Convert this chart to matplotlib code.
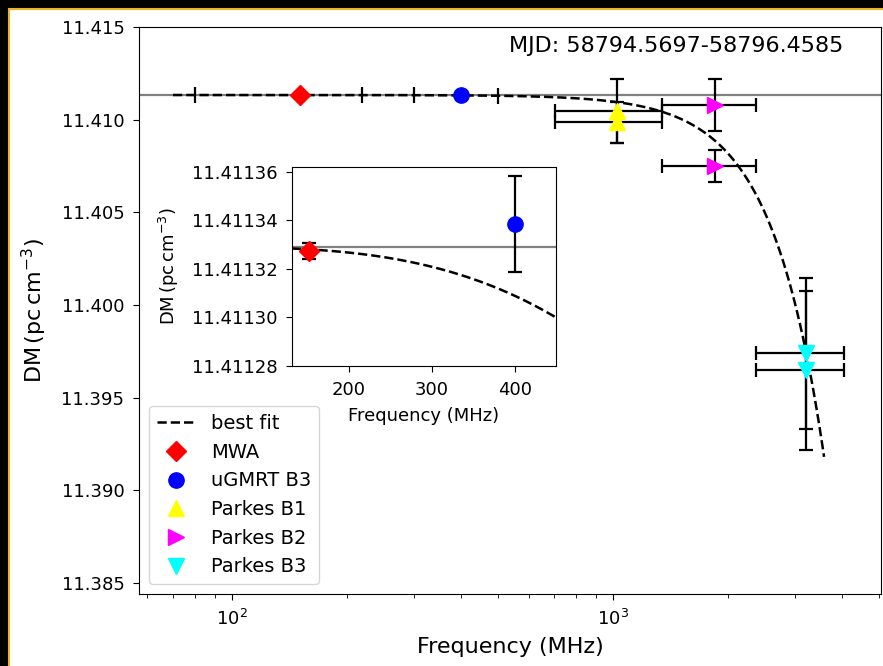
import numpy as np
import matplotlib
matplotlib.use("Agg")
import matplotlib.pyplot as plt
from matplotlib.patches import Rectangle
from matplotlib.ticker import FormatStrFormatter, MultipleLocator

# measurements (MHz, pc cm^-3)
mwa_freq = [151]
mwa_dm = [11.4113273]
mwa_err = [0.0000034]

gmrt_freq = [400]
gmrt_dm = [11.4113385]
gmrt_err = [0.0000199]

b1_freq = [1024, 1024]
b1_dm = [11.41045, 11.40985]
b1_err = [0.00172, 0.00112]
b1_bw = [320, 320]

b2_freq = [1856, 1856]
b2_dm = [11.4108, 11.40748]
b2_err = [0.0014, 0.00087]
b2_bw = [512, 512]

b3_freq = [3200, 3200]
b3_dm = [11.39739, 11.39648]
b3_err = [0.00406, 0.00429]
b3_bw = [832, 832]

# best fit: DM(f) = dm0 - amp * (f / 1 GHz)^index
dm0 = 11.411329
amp = 3.56e-4
index = 3.14
fit_fmin, fit_fmax = 70, 3580
fit_ticks = [80, 220, 300, 500]

mjd_text = "MJD: 58794.5697-58796.4585"
ylab = r"DM$\,(\mathrm{pc\,cm^{-3}})$"


def model(f):
    return dm0 - amp * (np.asarray(f) / 1000.0) ** index


def draw_points(ax, label=True):
    kw = dict(fmt="none", ecolor="k", elinewidth=1.6, capsize=5, capthick=1.6, zorder=3)
    ax.errorbar(mwa_freq, mwa_dm, yerr=mwa_err, **kw)
    ax.errorbar(gmrt_freq, gmrt_dm, yerr=gmrt_err, **kw)
    ax.errorbar(b1_freq, b1_dm, yerr=b1_err, xerr=b1_bw, **kw)
    ax.errorbar(b2_freq, b2_dm, yerr=b2_err, xerr=b2_bw, **kw)
    ax.errorbar(b3_freq, b3_dm, yerr=b3_err, xerr=b3_bw, **kw)
    ax.plot(mwa_freq, mwa_dm, "D", color="red", ms=10, ls="none", zorder=4, label="MWA" if label else None)
    ax.plot(gmrt_freq, gmrt_dm, "o", color="blue", ms=11, ls="none", zorder=4, label="uGMRT B3" if label else None)
    ax.plot(b1_freq, b1_dm, "^", color="yellow", ms=11, ls="none", zorder=4, label="Parkes B1" if label else None)
    ax.plot(b2_freq, b2_dm, ">", color="magenta", ms=11, ls="none", zorder=4, label="Parkes B2" if label else None)
    ax.plot(b3_freq, b3_dm, "v", color="cyan", ms=11, ls="none", zorder=4, label="Parkes B3" if label else None)


fig = plt.figure(figsize=(8.83, 6.66), dpi=100, facecolor="black")
fig.add_artist(Rectangle((8.5 / 883, -0.1), 2, (666 - 8.5) / 666 + 0.1, transform=fig.transFigure,
                         facecolor="white", edgecolor="#e8b52a", linewidth=1.5, zorder=0))

ax = fig.add_axes([139 / 883, 72 / 666, 742 / 883, 567 / 666])
f = np.geomspace(fit_fmin, fit_fmax, 400)
ax.axhline(dm0, color="gray", lw=1.6, zorder=1)
ax.plot(f, model(f), "k--", lw=1.8, zorder=2, label="best fit")
ax.plot(fit_ticks, model(fit_ticks), "|", color="k", ms=11, mew=1.6, zorder=2)
draw_points(ax)
ax.set_xscale("log")
ax.set_xlim(57, 5050)
ax.set_ylim(11.3844, 11.415)
ax.yaxis.set_major_locator(MultipleLocator(0.005))
ax.yaxis.set_major_formatter(FormatStrFormatter("%.3f"))
ax.tick_params(labelsize=13, length=4.5, pad=6)
ax.tick_params(which="minor", length=3)
ax.set_xlabel("Frequency (MHz)", fontsize=16, labelpad=6)
ax.set_ylabel(ylab, fontsize=16, labelpad=9)
ax.text(0.949, 0.984, mjd_text, transform=ax.transAxes, ha="right", va="top", fontsize=16)
ax.legend(loc="lower left", fontsize=14, numpoints=1)

ins = fig.add_axes([292 / 883, 300 / 666, 264 / 883, 199 / 666])
fi = np.linspace(131, 450, 200)
ins.axhline(dm0, color="gray", lw=1.6, zorder=1)
ins.plot(fi, model(fi), "k--", lw=1.8, zorder=2)
draw_points(ins, label=False)
ins.set_xlim(131, 450)
ins.set_ylim(11.41128, 11.411362)
ins.set_xticks([200, 300, 400])
ins.yaxis.set_major_locator(MultipleLocator(0.00002))
ins.yaxis.set_major_formatter(FormatStrFormatter("%.5f"))
ins.tick_params(labelsize=13, length=4.5, pad=6)
ins.set_xlabel("Frequency (MHz)", fontsize=13, labelpad=6)
ins.set_ylabel(ylab, fontsize=13, labelpad=8)

fig.savefig("out.png", dpi=100)
